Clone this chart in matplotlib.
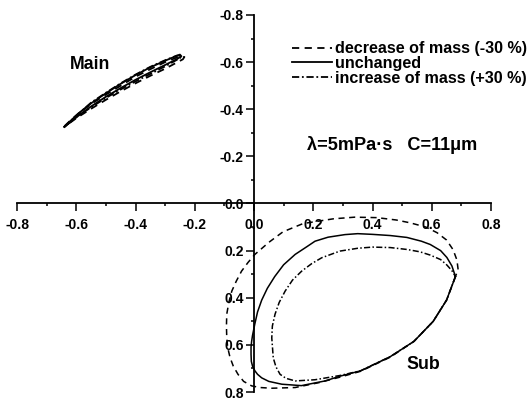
import matplotlib
matplotlib.use('Agg')
import matplotlib.pyplot as plt

plt.rcParams['font.family'] = ['Liberation Sans', 'DejaVu Sans']
plt.rcParams['font.weight'] = 'bold'

# orbit of the main journal centre (x, y)
main_dec_x = [-0.64, -0.62, -0.59, -0.55, -0.50, -0.45, -0.40, -0.35, -0.30, -0.26, -0.235,
              -0.24, -0.30, -0.35, -0.40, -0.45, -0.50, -0.55, -0.60, -0.635, -0.64]
main_dec_y = [-0.328, -0.352, -0.385, -0.422, -0.462, -0.500, -0.538, -0.570, -0.600, -0.620, -0.622,
              -0.612, -0.572, -0.542, -0.510, -0.476, -0.440, -0.402, -0.362, -0.330, -0.328]

main_unc_x = [-0.64, -0.62, -0.59, -0.55, -0.50, -0.45, -0.40, -0.35, -0.30, -0.27, -0.25,
              -0.245, -0.26, -0.30, -0.35, -0.40, -0.45, -0.50, -0.55, -0.59, -0.62, -0.64]
main_unc_y = [-0.325, -0.350, -0.385, -0.425, -0.468, -0.508, -0.545, -0.578, -0.606, -0.622, -0.632,
              -0.625, -0.613, -0.588, -0.557, -0.525, -0.490, -0.453, -0.412, -0.375, -0.345, -0.325]

main_inc_x = [-0.64, -0.60, -0.55, -0.50, -0.45, -0.40, -0.35, -0.30, -0.26, -0.245,
              -0.25, -0.30, -0.35, -0.40, -0.45, -0.50, -0.55, -0.60, -0.64]
main_inc_y = [-0.326, -0.372, -0.428, -0.470, -0.510, -0.547, -0.580, -0.608, -0.628, -0.628,
              -0.617, -0.582, -0.550, -0.518, -0.484, -0.448, -0.408, -0.367, -0.326]

# orbit of the sub journal centre (x, y)
sub_dec_x = [0.68, 0.65, 0.605, 0.54, 0.46, 0.36, 0.29, 0.22, 0.139, 0.06, 0.02, -0.008, -0.035,
             -0.054, -0.07, -0.081, -0.089, -0.092, -0.093, -0.092, -0.085, -0.075, -0.06, -0.042,
             -0.02, 0.003, 0.05, 0.098, 0.166, 0.268, 0.34, 0.415, 0.48, 0.527, 0.58, 0.618,
             0.65, 0.672, 0.685, 0.689, 0.68]
sub_dec_y = [0.31, 0.41, 0.50, 0.585, 0.652, 0.712, 0.737, 0.760, 0.781, 0.784, 0.781, 0.774, 0.755,
             0.725, 0.690, 0.653, 0.610, 0.568, 0.520, 0.470, 0.420, 0.372, 0.330, 0.287,
             0.250, 0.216, 0.165, 0.120, 0.085, 0.065, 0.058, 0.060, 0.070, 0.082, 0.100, 0.124,
             0.155, 0.196, 0.240, 0.280, 0.31]

sub_unc_x = [0.68, 0.65, 0.605, 0.54, 0.46, 0.36, 0.29, 0.24, 0.16, 0.094, 0.05, 0.026, 0.012,
             0.003, -0.005, -0.009, -0.01, -0.01, -0.008, -0.005, -0.001, 0.003, 0.012, 0.026,
             0.045, 0.07, 0.10, 0.139, 0.18, 0.206, 0.25, 0.307, 0.35, 0.40, 0.46, 0.516, 0.565,
             0.595, 0.63, 0.651, 0.668, 0.68]
sub_unc_y = [0.31, 0.41, 0.50, 0.585, 0.650, 0.710, 0.733, 0.753, 0.773, 0.767, 0.755, 0.740, 0.725,
             0.710, 0.690, 0.670, 0.640, 0.610, 0.585, 0.560, 0.535, 0.510, 0.460, 0.410,
             0.360, 0.310, 0.260, 0.216, 0.182, 0.160, 0.143, 0.132, 0.128, 0.131, 0.136, 0.144,
             0.160, 0.174, 0.200, 0.229, 0.265, 0.31]

sub_inc_x = [0.68, 0.65, 0.605, 0.54, 0.46, 0.36, 0.29, 0.206, 0.139, 0.108, 0.088, 0.074, 0.065,
             0.06, 0.062, 0.071, 0.085, 0.105, 0.13, 0.161, 0.195, 0.229, 0.29, 0.35, 0.40, 0.46,
             0.516, 0.56, 0.595, 0.63, 0.651, 0.668, 0.68]
sub_inc_y = [0.31, 0.41, 0.50, 0.585, 0.650, 0.710, 0.730, 0.748, 0.753, 0.742, 0.725, 0.693, 0.655,
             0.570, 0.520, 0.470, 0.420, 0.372, 0.325, 0.287, 0.255, 0.230, 0.202, 0.190, 0.185,
             0.187, 0.195, 0.205, 0.219, 0.238, 0.261, 0.285, 0.31]

labels = ['decrease of mass (-30 %)', 'unchanged', 'increase of mass (+30 %)']
ticks = [-0.8, -0.6, -0.4, -0.2, 0.0, 0.2, 0.4, 0.6, 0.8]
tick_labels = ['-0.8', '-0.6', '-0.4', '-0.2', '0.0', '0.2', '0.4', '0.6', '0.8']

fig = plt.figure(figsize=(5.31, 4.01), dpi=100)
ax = fig.add_axes([17 / 531, 1 - 392 / 401, 474 / 531, 377 / 401])

lw = 1.1
dec, = ax.plot(main_dec_x, main_dec_y, color='black', lw=lw + 0.2, dashes=(4, 3))
unc, = ax.plot(main_unc_x, main_unc_y, color='black', lw=lw + 0.2, linestyle='-')
inc, = ax.plot(main_inc_x, main_inc_y, color='black', lw=lw + 0.2, dashes=(4, 1.5, 1, 1.5))
ax.plot(sub_dec_x, sub_dec_y, color='black', lw=lw, dashes=(4, 3))
ax.plot(sub_unc_x, sub_unc_y, color='black', lw=lw, linestyle='-')
ax.plot(sub_inc_x, sub_inc_y, color='black', lw=lw, dashes=(4, 1.5, 1, 1.5))

ax.set_xlim(-0.8, 0.8)
ax.set_ylim(0.8, -0.8)

# axes cross at the origin
ax.spines['left'].set_position(('data', 0))
ax.spines['bottom'].set_position(('data', 0))
ax.spines['top'].set_visible(False)
ax.spines['right'].set_visible(False)
for s in ['left', 'bottom']:
    ax.spines[s].set_linewidth(1.3)

ax.set_xticks(ticks)
ax.set_xticklabels(tick_labels)
ax.set_yticks(ticks)
ax.set_yticklabels(tick_labels)
ax.set_xticks([-0.7, -0.5, -0.3, -0.1, 0.1, 0.3, 0.5, 0.7], minor=True)
ax.set_yticks([-0.7, -0.5, -0.3, -0.1, 0.1, 0.3, 0.5, 0.7], minor=True)
ax.tick_params(which='major', direction='out', length=5.5, width=1.1, labelsize=10)
ax.tick_params(which='minor', direction='out', length=2.5, width=1.1)
ax.tick_params(axis='x', which='major', pad=5)
ax.tick_params(axis='y', which='major', pad=2)

ax.text(-0.555, -0.592, 'Main', ha='center', va='center', fontsize=12.8, fontweight='bold')
ax.text(0.572, 0.682, 'Sub', ha='center', va='center', fontsize=12.8, fontweight='bold')
ax.text(0.178, -0.25, 'λ=5mPa·s   C=11μm', ha='left', va='center', fontsize=13.1,
        fontweight='bold')

ax.legend([dec, unc, inc], labels, loc='upper left', bbox_to_anchor=(0.58, 0.93),
          frameon=False, fontsize=11.6, handlelength=2.5, handletextpad=0.2,
          labelspacing=-0.02, borderpad=0, borderaxespad=0)

fig.savefig('out.png', dpi=100)
